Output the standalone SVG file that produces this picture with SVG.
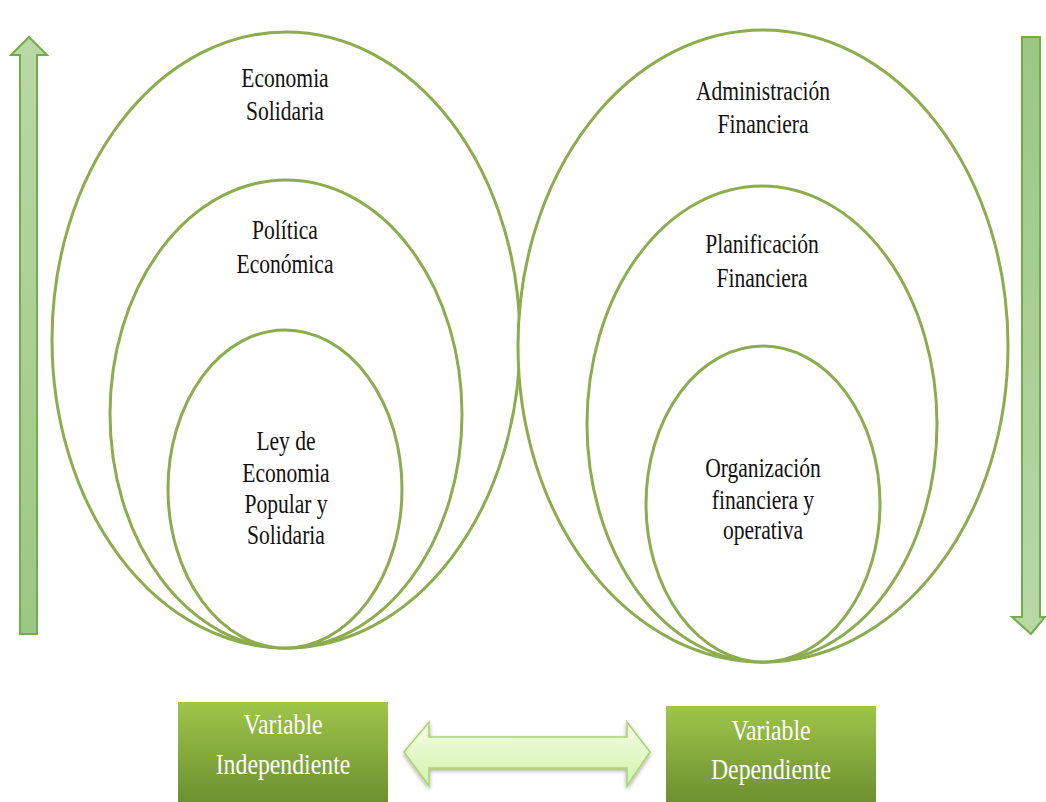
<svg xmlns="http://www.w3.org/2000/svg" width="1046" height="802" viewBox="0 0 1046 802">
  <defs>
    <linearGradient id="upGrad" x1="0" y1="0" x2="0" y2="1">
      <stop offset="0" stop-color="#b9d8a6"/>
      <stop offset="1" stop-color="#9bc784"/>
    </linearGradient>
    <linearGradient id="downGrad" x1="0" y1="0" x2="0" y2="1">
      <stop offset="0" stop-color="#9bc784"/>
      <stop offset="1" stop-color="#b9d8a6"/>
    </linearGradient>
    <linearGradient id="boxGrad" x1="0" y1="0" x2="0" y2="1">
      <stop offset="0" stop-color="#9fc54a"/>
      <stop offset="1" stop-color="#6d9031"/>
    </linearGradient>
    <linearGradient id="dblGrad" x1="0" y1="0" x2="0" y2="1">
      <stop offset="0" stop-color="#f4fde8"/>
      <stop offset="0.5" stop-color="#e3f8c8"/>
      <stop offset="1" stop-color="#d2f0a8"/>
    </linearGradient>
    <filter id="soft" x="-10%" y="-20%" width="120%" height="140%">
      <feGaussianBlur in="SourceAlpha" stdDeviation="2"/>
      <feOffset dx="0" dy="2"/>
      <feComponentTransfer><feFuncA type="linear" slope="0.35"/></feComponentTransfer>
      <feMerge><feMergeNode/><feMergeNode in="SourceGraphic"/></feMerge>
    </filter>
  </defs>
  <style>
    .ring { fill: #ffffff; stroke: #8cac4e; stroke-width: 3; }
    .lbl { font-family: "Liberation Serif", "Times New Roman", serif; font-size: 28px; fill: #111111; text-anchor: middle; }
    .var { font-family: "Liberation Serif", "Times New Roman", serif; font-size: 29px; fill: #ffffff; text-anchor: middle; }
    .bigArrow { stroke: #72ad4a; stroke-width: 2; }
  </style>

  <rect width="1046" height="802" fill="#ffffff"/>

  <!-- side arrows and the two-way arrow between the variables -->
  <g id="connectors">
    <path class="bigArrow" fill="url(#upGrad)" d="M29,37 L47,55 L37,55 L37,634 L20,634 L20,55 L11,55 Z"/>
    <path class="bigArrow" fill="url(#downGrad)" d="M1022,37 L1040,37 L1040,617 L1045,617 L1031,634 L1012,617 L1022,617 Z"/>
    <path filter="url(#soft)" fill="url(#dblGrad)" stroke="#a9d36e" stroke-width="1.5" d="M404,752 L429,722 L429,737 L627,737 L627,722 L650,752 L627,786 L627,768 L429,768 L429,786 Z"/>
  </g>

  <!-- independent variable rings -->
  <g id="economia-solidaria">
    <ellipse class="ring" cx="286" cy="340" rx="234" ry="308"/>
    <text class="lbl" transform="translate(285,87) scale(0.77,1)"><tspan x="0" y="0">Economia</tspan><tspan x="0" y="33">Solidaria</tspan></text>
  </g>
  <g id="politica-economica">
    <ellipse class="ring" cx="286" cy="414" rx="176" ry="234"/>
    <text class="lbl" transform="translate(285,239) scale(0.77,1)"><tspan x="0" y="0">Política</tspan><tspan x="0" y="34">Económica</tspan></text>
  </g>
  <g id="ley-economia-popular">
    <ellipse class="ring" cx="285" cy="489" rx="117" ry="159"/>
    <text class="lbl" transform="translate(286,450) scale(0.77,1)"><tspan x="0" y="0">Ley de</tspan><tspan x="0" y="32">Economia</tspan><tspan x="0" y="63">Popular y</tspan><tspan x="0" y="94">Solidaria</tspan></text>
  </g>

  <!-- dependent variable rings -->
  <g id="administracion-financiera">
    <ellipse class="ring" cx="763" cy="346" rx="245" ry="316"/>
    <text class="lbl" transform="translate(763,100) scale(0.77,1)"><tspan x="0" y="0">Administración</tspan><tspan x="0" y="33">Financiera</tspan></text>
  </g>
  <g id="planificacion-financiera">
    <ellipse class="ring" cx="762" cy="424" rx="175" ry="238"/>
    <text class="lbl" transform="translate(762,253) scale(0.77,1)"><tspan x="0" y="0">Planificación</tspan><tspan x="0" y="34">Financiera</tspan></text>
  </g>
  <g id="organizacion-financiera">
    <ellipse class="ring" cx="763" cy="504" rx="117" ry="158"/>
    <text class="lbl" transform="translate(763,477) scale(0.77,1)"><tspan x="0" y="0">Organización</tspan><tspan x="0" y="32">financiera y</tspan><tspan x="0" y="62">operativa</tspan></text>
  </g>

  <!-- variable boxes -->
  <g id="variable-independiente">
    <rect x="178" y="702" width="210" height="100" fill="url(#boxGrad)"/>
    <text class="var" transform="translate(283,734) scale(0.82,1)"><tspan x="0" y="0">Variable</tspan><tspan x="0" y="40">Independiente</tspan></text>
  </g>
  <g id="variable-dependiente">
    <rect x="666" y="706" width="210" height="96" fill="url(#boxGrad)"/>
    <text class="var" transform="translate(771,740) scale(0.82,1)"><tspan x="0" y="0">Variable</tspan><tspan x="0" y="39">Dependiente</tspan></text>
  </g>
</svg>
